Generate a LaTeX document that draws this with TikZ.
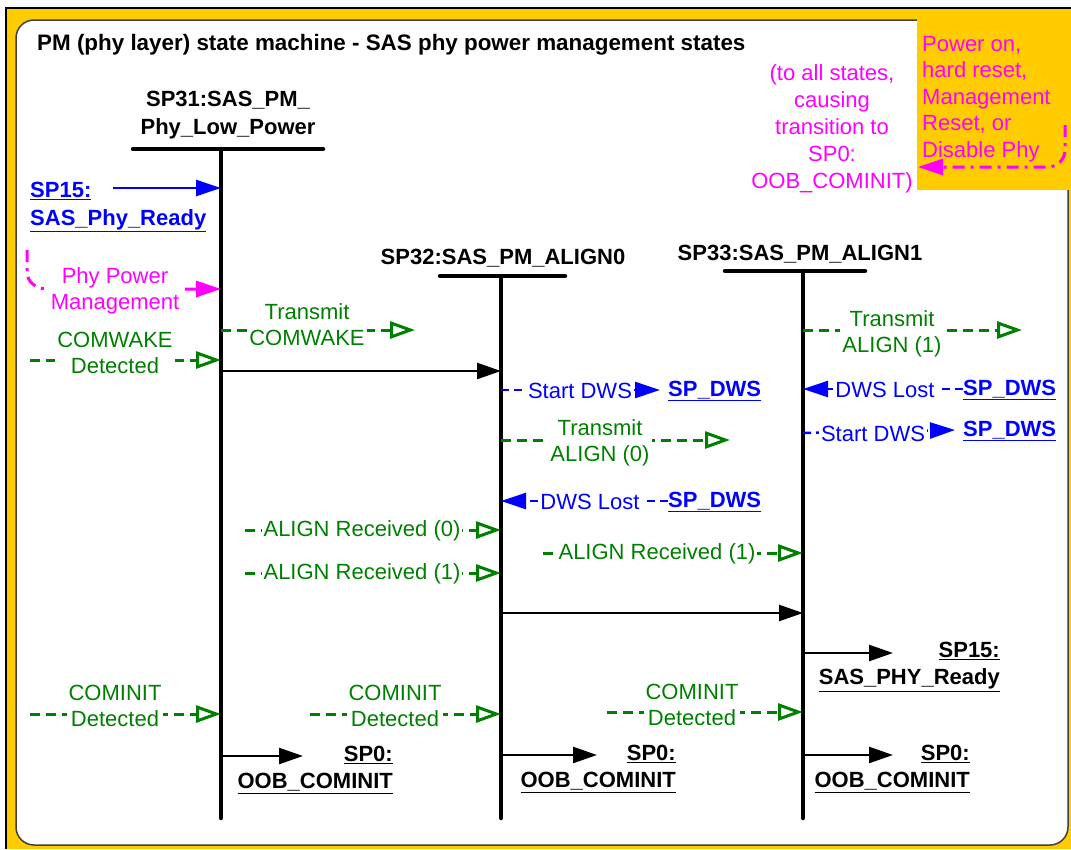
\documentclass[tikz,border=0pt]{standalone}
\usepackage{fontspec}
\setmainfont{Liberation Sans}
\usetikzlibrary{arrows.meta}
\definecolor{pmyellow}{HTML}{FFCC00}
\definecolor{pmgreen}{HTML}{008000}
\definecolor{pmblue}{HTML}{0000FF}
\definecolor{pmmagenta}{HTML}{FF00FF}
\definecolor{pmgray}{HTML}{404040}
\pgfdeclarelayer{bg}
\pgfdeclarelayer{lines}
\pgfsetlayers{bg,lines,main}

\begin{document}
\begin{tikzpicture}[x=1pt,y=-1pt,
   font=\fontsize{22}{26}\selectfont,
   hdr/.style={font=\fontsize{22}{28}\selectfont\bfseries,align=center,inner sep=0pt},
   exit/.style={font=\fontsize{22}{27}\selectfont\bfseries,align=right,inner sep=0pt},
   dws/.style={font=\fontsize{22}{26}\selectfont\bfseries,text=pmblue,inner sep=0pt,anchor=west},
   grntxt/.style={text=pmgreen,fill=white,align=center,inner sep=2pt},
   bluetxt/.style={text=pmblue,fill=white,align=center,inner sep=2pt},
   magtxt/.style={text=pmmagenta,fill=white,align=center,inner sep=2pt},
   bar/.style={line width=4.5pt,line cap=round},
   blkmsg/.style={draw=black,line width=2.5pt,-{Triangle[length=24pt,width=16pt]}},
   bluesolid/.style={draw=pmblue,line width=2.5pt,-{Triangle[length=25pt,width=16pt]}},
   bluemsg/.style={draw=pmblue,line width=2.5pt,dash pattern=on 8pt off 5pt,-{Triangle[length=25pt,width=16pt]}},
   grnmsg/.style={draw=pmgreen,line width=3pt,dash pattern=on 10pt off 6pt,-{Triangle[open,length=25pt,width=17pt]}},
   magmsg/.style={draw=pmmagenta,line width=3pt,dash pattern=on 12pt off 6pt on 3pt off 6pt,-{Triangle[length=25pt,width=16pt]}}]
   \useasboundingbox (0,0) rectangle (1071,849);
   % frame and panel
   \begin{pgfonlayer}{bg}
    \fill[pmyellow] (6,8) rectangle (1071,849);
    \draw[line width=1.5pt] (6,849) |- (1071,8);
    \filldraw[fill=white,draw=pmgray,line width=1.5pt,rounded corners=18pt] (16,20) rectangle (1068,845);
    \fill[pmyellow] (917,19) rectangle (1071,190);
   \end{pgfonlayer}
   \node[hdr,anchor=base west,font=\fontsize{22.4}{28}\selectfont\bfseries] (title) at (37,50) {PM (phy layer) state machine - SAS phy power management states};
   % states
   \node[hdr] (h31) at (228,115) {SP31:SAS\_PM\_\\Phy\_Low\_Power};
   \node[hdr] (h32) at (503,258) {SP32:SAS\_PM\_ALIGN0};
   \node[hdr] (h33) at (800,254) {SP33:SAS\_PM\_ALIGN1};
   \coordinate (l31t) at (221,149);
   \coordinate (l31b) at (221,818);
   \coordinate (l32t) at (501,276);
   \coordinate (l32b) at (501,818);
   \coordinate (l33t) at (803,271);
   \coordinate (l33b) at (803,818);
   % labels
   \node[dws,align=left,font=\fontsize{22}{28}\selectfont\bfseries] (sp15) at (30,207) {\underline{SP15:}\\\underline{SAS\_Phy\_Ready}};
   \node[magtxt] (ppm) at (115,291) {Phy Power\\Management};
   \node[grntxt] (cwd) at (115,353) {COMWAKE\\Detected};
   \node[grntxt] (tcw) at (307,325) {Transmit\\COMWAKE};
   \node[bluetxt] (sd1) at (580,391) {Start DWS};
   \node[dws] (dws1) at (668,391) {\underline{SP\_DWS}};
   \node[grntxt] (ta0) at (600,443) {Transmit\\ALIGN (0)};
   \node[bluetxt] (dl1) at (590,502) {DWS Lost};
   \node[dws] (dws2) at (668,502) {\underline{SP\_DWS}};
   \node[grntxt] (ar0) at (362,531) {ALIGN Received (0)};
   \node[grntxt] (ar1) at (362,574) {ALIGN Received (1)};
   \node[grntxt] (ar2) at (657,554) {ALIGN Received (1)};
   \node[grntxt] (ta1) at (892,334) {Transmit\\ALIGN (1)};
   \node[bluetxt] (dl2) at (885,390) {DWS Lost};
   \node[dws] (dws3) at (963,390) {\underline{SP\_DWS}};
   \node[bluetxt] (sd2) at (873,434) {Start DWS};
   \node[dws] (dws4) at (963,431) {\underline{SP\_DWS}};
   \node[exit,anchor=east] (rdy) at (1000,667) {\underline{SP15:}\\\underline{SAS\_PHY\_Ready}};
   \node[grntxt] (ci1) at (115,706) {COMINIT\\Detected};
   \node[grntxt] (ci2) at (395,706) {COMINIT\\Detected};
   \node[grntxt] (ci3) at (692,705) {COMINIT\\Detected};
   \node[exit,anchor=east] (oob1) at (393,770) {\underline{SP0:}\\\underline{OOB\_COMINIT}};
   \node[exit,anchor=east] (oob2) at (676,769) {\underline{SP0:}\\\underline{OOB\_COMINIT}};
   \node[exit,anchor=east] (oob3) at (970,769) {\underline{SP0:}\\\underline{OOB\_COMINIT}};
   \node[magtxt,fill=none,font=\fontsize{22}{27}\selectfont] (all) at (832,129) {(to all states,\\causing\\transition to\\SP0:\\OOB\_COMINIT)};
   \node[magtxt,fill=none,anchor=west,align=left,font=\fontsize{22}{26.5}\selectfont] (rst) at (920,99) {Power on,\\hard reset,\\Management\\Reset, or\\Disable Phy};
   % free ends
   \coordinate (sp15 s) at (113,188);
   \coordinate (ppm s) at (27,250);
   \coordinate (cwd s) at (30,360);
   \coordinate (tcw e) at (415,330);
   \coordinate (go32) at (501,371);
   \coordinate (ta0 e) at (730,440);
   \coordinate (ar0 s) at (245,530);
   \coordinate (ar1 s) at (245,573);
   \coordinate (ar2 s) at (543,553);
   \coordinate (go33) at (803,613);
   \coordinate (ta1 e) at (1022,330);
   \coordinate (rdy e) at (893,653);
   \coordinate (ci1 s) at (30,714);
   \coordinate (ci2 s) at (310,714);
   \coordinate (ci3 s) at (607,712);
   \coordinate (oob1 e) at (303,756);
   \coordinate (oob2 e) at (597,755);
   \coordinate (oob3 e) at (893,755);
   \coordinate (rst s) at (1065,125);
   \coordinate (rst e) at (918,167);
   \begin{pgfonlayer}{lines}
    \draw[bar] (133,149) -- (323,149);
    \draw[bar] (440,276) -- (565,276);
    \draw[bar] (725,271) -- (865,271);
    \draw[bar] (l31t) -- (l31b);
    \draw[bar] (l32t) -- (l32b);
    \draw[bar] (l33t) -- (l33b);
    % SP31
    \draw[bluesolid] (sp15 s) -- (sp15 s -| l31t);
    \draw[magmsg] (ppm s) -- (27,272) to[out=-90,in=180] (47,289) -- (l31t |- 0,289);
    \draw[grnmsg] (cwd s) -- (cwd s -| l31t);
    \draw[grnmsg] (tcw e -| l31t) -- (tcw e);
    \draw[blkmsg] (go32 -| l31t) -- (go32);
    \draw[grnmsg] (ci1 s) -- (ci1 s -| l31t);
    \draw[blkmsg] (oob1 e -| l31t) -- (oob1 e);
    % SP32
    \draw[bluemsg] (l32t |- 0,390) -- ([xshift=-8pt,yshift=1pt]dws1.west);
    \draw[grnmsg] (ta0 e -| l32t) -- (ta0 e);
    \draw[bluemsg] ([yshift=1pt]dws2.west) -- ([yshift=1pt]dws2.west -| l32t);
    \draw[grnmsg] (ar0 s) -- (ar0 s -| l32t);
    \draw[grnmsg] (ar1 s) -- (ar1 s -| l32t);
    \draw[blkmsg] (go33 -| l32t) -- (go33);
    \draw[grnmsg] (ci2 s) -- (ci2 s -| l32t);
    \draw[blkmsg] (oob2 e -| l32t) -- (oob2 e);
    % SP33
    \draw[grnmsg] (ta1 e -| l33t) -- (ta1 e);
    \draw[bluemsg] ([yshift=1pt]dws3.west) -- ([yshift=1pt]dws3.west -| l33t);
    \draw[bluemsg] (l33t |- 0,433) -- ([xshift=-8pt,yshift=1pt]dws4.west);
    \draw[grnmsg] (ar2 s) -- (ar2 s -| l33t);
    \draw[blkmsg] (rdy e -| l33t) -- (rdy e);
    \draw[grnmsg] (ci3 s) -- (ci3 s -| l33t);
    \draw[blkmsg] (oob3 e -| l33t) -- (oob3 e);
    % reset
    \draw[magmsg] (rst s) -- (1065,150) to[out=-90,in=0] (1048,167) -- (rst e);
   \end{pgfonlayer}
\end{tikzpicture}
\end{document}
